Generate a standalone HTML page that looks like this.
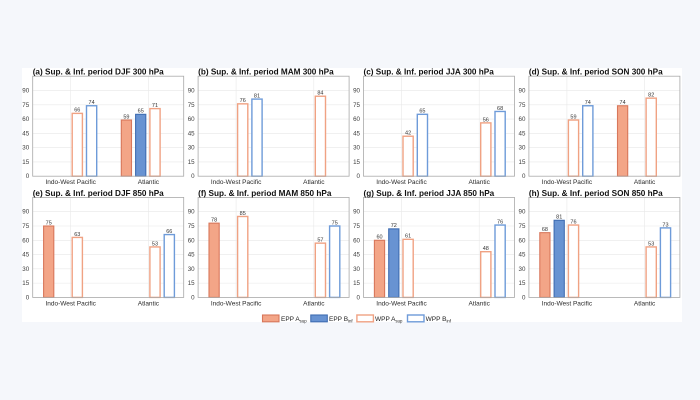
<!DOCTYPE html>
<html><head><meta charset="utf-8">
<style>
html,body{margin:0;padding:0;background:#f5f7fb;}
svg{display:block;font-family:"Liberation Sans",Arial,sans-serif;}
.fr{fill:none;stroke:#a9a9a9;stroke-width:0.8}
.gr{stroke:#e8e8e8;stroke-width:0.6}
.tk{stroke:#a9a9a9;stroke-width:0.6}
.yl{font-size:6.2px;fill:#3c3c3c;text-anchor:end}
.cl{font-size:6.5px;fill:#2a2a2a;text-anchor:middle}
.tt{font-size:8.2px;font-weight:bold;fill:#111}
.vl{font-size:5.5px;fill:#333;text-anchor:middle}
.ea{fill:#f3a587;stroke:#d8775b;stroke-width:1.1}
.eb{fill:#6893d2;stroke:#3f6db2;stroke-width:1.1}
.wa{fill:#fff;stroke:#f0a283;stroke-width:1.4}
.wb{fill:#fff;stroke:#6e9bd9;stroke-width:1.4}
.lg{font-size:6.5px;fill:#222}
</style></head><body>
<svg width="700" height="400" viewBox="0 0 700 400" xmlns="http://www.w3.org/2000/svg">
<rect x="0" y="0" width="700" height="400" fill="#f5f7fb"/>
<rect x="22" y="68" width="660" height="254" fill="#ffffff"/>

<!-- ===== Panel a ===== -->
<g transform="translate(32.7,76.2)">
<line class="gr" x1="0" y1="85.72" x2="151" y2="85.72"/><line class="gr" x1="0" y1="71.44" x2="151" y2="71.44"/><line class="gr" x1="0" y1="57.16" x2="151" y2="57.16"/><line class="gr" x1="0" y1="42.88" x2="151" y2="42.88"/><line class="gr" x1="0" y1="28.6" x2="151" y2="28.6"/><line class="gr" x1="0" y1="14.32" x2="151" y2="14.32"/>
<line class="gr" x1="38" y1="0" x2="38" y2="100"/><line class="gr" x1="115.7" y1="0" x2="115.7" y2="100"/>
<rect class="wa" x="39.5" y="37.17" width="10.2" height="62.83"/>
<rect class="wb" x="53.8" y="29.55" width="10.2" height="70.45"/>
<rect class="ea" x="88.6" y="43.83" width="10.2" height="56.17"/>
<rect class="eb" x="102.9" y="38.12" width="10.2" height="61.88"/>
<rect class="wa" x="117.2" y="32.41" width="10.2" height="67.59"/>
<text class="vl" x="44.6" y="35.5">66</text><text class="vl" x="58.9" y="27.9">74</text><text class="vl" x="93.7" y="42.2">59</text><text class="vl" x="108" y="36.5">65</text><text class="vl" x="122.3" y="30.8">71</text>
<rect class="fr" x="0" y="0" width="151" height="100"/>
<text class="yl" x="-3.5" y="102">0</text><text class="yl" x="-3.5" y="87.7">15</text><text class="yl" x="-3.5" y="73.4">30</text><text class="yl" x="-3.5" y="59.2">45</text><text class="yl" x="-3.5" y="44.9">60</text><text class="yl" x="-3.5" y="30.6">75</text><text class="yl" x="-3.5" y="16.3">90</text>
<text class="cl" x="38" y="108">Indo-West Pacific</text><text class="cl" x="115.7" y="108">Atlantic</text>
<text class="tt" x="0" y="-1.5">(a) Sup. &amp; Inf. period DJF 300 hPa</text>
</g>

<!-- ===== Panel b ===== -->
<g transform="translate(198.1,76.2)">
<line class="gr" x1="0" y1="85.72" x2="151" y2="85.72"/><line class="gr" x1="0" y1="71.44" x2="151" y2="71.44"/><line class="gr" x1="0" y1="57.16" x2="151" y2="57.16"/><line class="gr" x1="0" y1="42.88" x2="151" y2="42.88"/><line class="gr" x1="0" y1="28.6" x2="151" y2="28.6"/><line class="gr" x1="0" y1="14.32" x2="151" y2="14.32"/>
<line class="gr" x1="38" y1="0" x2="38" y2="100"/><line class="gr" x1="115.7" y1="0" x2="115.7" y2="100"/>
<rect class="wa" x="39.5" y="27.65" width="10.2" height="72.35"/>
<rect class="wb" x="53.8" y="22.89" width="10.2" height="77.11"/>
<rect class="wa" x="117.2" y="20.03" width="10.2" height="79.97"/>
<text class="vl" x="44.6" y="26">76</text><text class="vl" x="58.9" y="21.2">81</text><text class="vl" x="122.3" y="18.4">84</text>
<rect class="fr" x="0" y="0" width="151" height="100"/>
<text class="yl" x="-3.5" y="102">0</text><text class="yl" x="-3.5" y="87.7">15</text><text class="yl" x="-3.5" y="73.4">30</text><text class="yl" x="-3.5" y="59.2">45</text><text class="yl" x="-3.5" y="44.9">60</text><text class="yl" x="-3.5" y="30.6">75</text><text class="yl" x="-3.5" y="16.3">90</text>
<text class="cl" x="38" y="108">Indo-West Pacific</text><text class="cl" x="115.7" y="108">Atlantic</text>
<text class="tt" x="0" y="-1.5">(b) Sup. &amp; Inf. period MAM 300 hPa</text>
</g>

<!-- ===== Panel c ===== -->
<g transform="translate(363.5,76.2)">
<line class="gr" x1="0" y1="85.72" x2="151" y2="85.72"/><line class="gr" x1="0" y1="71.44" x2="151" y2="71.44"/><line class="gr" x1="0" y1="57.16" x2="151" y2="57.16"/><line class="gr" x1="0" y1="42.88" x2="151" y2="42.88"/><line class="gr" x1="0" y1="28.6" x2="151" y2="28.6"/><line class="gr" x1="0" y1="14.32" x2="151" y2="14.32"/>
<line class="gr" x1="38" y1="0" x2="38" y2="100"/><line class="gr" x1="115.7" y1="0" x2="115.7" y2="100"/>
<rect class="wa" x="39.5" y="60.02" width="10.2" height="39.98"/>
<rect class="wb" x="53.8" y="38.12" width="10.2" height="61.88"/>
<rect class="wa" x="117.2" y="46.69" width="10.2" height="53.31"/>
<rect class="wb" x="131.5" y="35.26" width="10.2" height="64.74"/>
<text class="vl" x="44.6" y="58.4">42</text><text class="vl" x="58.9" y="36.5">65</text><text class="vl" x="122.3" y="45.1">56</text><text class="vl" x="136.6" y="33.6">68</text>
<rect class="fr" x="0" y="0" width="151" height="100"/>
<text class="yl" x="-3.5" y="102">0</text><text class="yl" x="-3.5" y="87.7">15</text><text class="yl" x="-3.5" y="73.4">30</text><text class="yl" x="-3.5" y="59.2">45</text><text class="yl" x="-3.5" y="44.9">60</text><text class="yl" x="-3.5" y="30.6">75</text><text class="yl" x="-3.5" y="16.3">90</text>
<text class="cl" x="38" y="108">Indo-West Pacific</text><text class="cl" x="115.7" y="108">Atlantic</text>
<text class="tt" x="0" y="-1.5">(c) Sup. &amp; Inf. period JJA 300 hPa</text>
</g>

<!-- ===== Panel d ===== -->
<g transform="translate(528.9,76.2)">
<line class="gr" x1="0" y1="85.72" x2="151" y2="85.72"/><line class="gr" x1="0" y1="71.44" x2="151" y2="71.44"/><line class="gr" x1="0" y1="57.16" x2="151" y2="57.16"/><line class="gr" x1="0" y1="42.88" x2="151" y2="42.88"/><line class="gr" x1="0" y1="28.6" x2="151" y2="28.6"/><line class="gr" x1="0" y1="14.32" x2="151" y2="14.32"/>
<line class="gr" x1="38" y1="0" x2="38" y2="100"/><line class="gr" x1="115.7" y1="0" x2="115.7" y2="100"/>
<rect class="wa" x="39.5" y="43.83" width="10.2" height="56.17"/>
<rect class="wb" x="53.8" y="29.55" width="10.2" height="70.45"/>
<rect class="ea" x="88.6" y="29.55" width="10.2" height="70.45"/>
<rect class="wa" x="117.2" y="21.94" width="10.2" height="78.06"/>
<text class="vl" x="44.6" y="42.2">59</text><text class="vl" x="58.9" y="27.9">74</text><text class="vl" x="93.7" y="27.9">74</text><text class="vl" x="122.3" y="20.3">82</text>
<rect class="fr" x="0" y="0" width="151" height="100"/>
<text class="yl" x="-3.5" y="102">0</text><text class="yl" x="-3.5" y="87.7">15</text><text class="yl" x="-3.5" y="73.4">30</text><text class="yl" x="-3.5" y="59.2">45</text><text class="yl" x="-3.5" y="44.9">60</text><text class="yl" x="-3.5" y="30.6">75</text><text class="yl" x="-3.5" y="16.3">90</text>
<text class="cl" x="38" y="108">Indo-West Pacific</text><text class="cl" x="115.7" y="108">Atlantic</text>
<text class="tt" x="0" y="-1.5">(d) Sup. &amp; Inf. period SON 300 hPa</text>
</g>

<!-- ===== Panel e ===== -->
<g transform="translate(32.7,197.4)">
<line class="gr" x1="0" y1="85.72" x2="151" y2="85.72"/><line class="gr" x1="0" y1="71.44" x2="151" y2="71.44"/><line class="gr" x1="0" y1="57.16" x2="151" y2="57.16"/><line class="gr" x1="0" y1="42.88" x2="151" y2="42.88"/><line class="gr" x1="0" y1="28.6" x2="151" y2="28.6"/><line class="gr" x1="0" y1="14.32" x2="151" y2="14.32"/>
<line class="gr" x1="38" y1="0" x2="38" y2="100"/><line class="gr" x1="115.7" y1="0" x2="115.7" y2="100"/>
<rect class="ea" x="10.9" y="28.6" width="10.2" height="71.4"/>
<rect class="wa" x="39.5" y="40.02" width="10.2" height="59.98"/>
<rect class="wa" x="117.2" y="49.54" width="10.2" height="50.46"/>
<rect class="wb" x="131.5" y="37.17" width="10.2" height="62.83"/>
<text class="vl" x="16" y="27">75</text><text class="vl" x="44.6" y="38.4">63</text><text class="vl" x="122.3" y="47.9">53</text><text class="vl" x="136.6" y="35.5">66</text>
<rect class="fr" x="0" y="0" width="151" height="100"/>
<text class="yl" x="-3.5" y="102">0</text><text class="yl" x="-3.5" y="87.7">15</text><text class="yl" x="-3.5" y="73.4">30</text><text class="yl" x="-3.5" y="59.2">45</text><text class="yl" x="-3.5" y="44.9">60</text><text class="yl" x="-3.5" y="30.6">75</text><text class="yl" x="-3.5" y="16.3">90</text>
<text class="cl" x="38" y="108">Indo-West Pacific</text><text class="cl" x="115.7" y="108">Atlantic</text>
<text class="tt" x="0" y="-1.5">(e) Sup. &amp; Inf. period DJF 850 hPa</text>
</g>

<!-- ===== Panel f ===== -->
<g transform="translate(198.1,197.4)">
<line class="gr" x1="0" y1="85.72" x2="151" y2="85.72"/><line class="gr" x1="0" y1="71.44" x2="151" y2="71.44"/><line class="gr" x1="0" y1="57.16" x2="151" y2="57.16"/><line class="gr" x1="0" y1="42.88" x2="151" y2="42.88"/><line class="gr" x1="0" y1="28.6" x2="151" y2="28.6"/><line class="gr" x1="0" y1="14.32" x2="151" y2="14.32"/>
<line class="gr" x1="38" y1="0" x2="38" y2="100"/><line class="gr" x1="115.7" y1="0" x2="115.7" y2="100"/>
<rect class="ea" x="10.9" y="25.74" width="10.2" height="74.26"/>
<rect class="wa" x="39.5" y="19.08" width="10.2" height="80.92"/>
<rect class="wa" x="117.2" y="45.74" width="10.2" height="54.26"/>
<rect class="wb" x="131.5" y="28.6" width="10.2" height="71.4"/>
<text class="vl" x="16" y="24.1">78</text><text class="vl" x="44.6" y="17.4">85</text><text class="vl" x="122.3" y="44.1">57</text><text class="vl" x="136.6" y="27">75</text>
<rect class="fr" x="0" y="0" width="151" height="100"/>
<text class="yl" x="-3.5" y="102">0</text><text class="yl" x="-3.5" y="87.7">15</text><text class="yl" x="-3.5" y="73.4">30</text><text class="yl" x="-3.5" y="59.2">45</text><text class="yl" x="-3.5" y="44.9">60</text><text class="yl" x="-3.5" y="30.6">75</text><text class="yl" x="-3.5" y="16.3">90</text>
<text class="cl" x="38" y="108">Indo-West Pacific</text><text class="cl" x="115.7" y="108">Atlantic</text>
<text class="tt" x="0" y="-1.5">(f) Sup. &amp; Inf. period MAM 850 hPa</text>
</g>

<!-- ===== Panel g ===== -->
<g transform="translate(363.5,197.4)">
<line class="gr" x1="0" y1="85.72" x2="151" y2="85.72"/><line class="gr" x1="0" y1="71.44" x2="151" y2="71.44"/><line class="gr" x1="0" y1="57.16" x2="151" y2="57.16"/><line class="gr" x1="0" y1="42.88" x2="151" y2="42.88"/><line class="gr" x1="0" y1="28.6" x2="151" y2="28.6"/><line class="gr" x1="0" y1="14.32" x2="151" y2="14.32"/>
<line class="gr" x1="38" y1="0" x2="38" y2="100"/><line class="gr" x1="115.7" y1="0" x2="115.7" y2="100"/>
<rect class="ea" x="10.9" y="42.88" width="10.2" height="57.12"/>
<rect class="eb" x="25.2" y="31.46" width="10.2" height="68.54"/>
<rect class="wa" x="39.5" y="41.93" width="10.2" height="58.07"/>
<rect class="wa" x="117.2" y="54.3" width="10.2" height="45.7"/>
<rect class="wb" x="131.5" y="27.65" width="10.2" height="72.35"/>
<text class="vl" x="16" y="41.2">60</text><text class="vl" x="30.3" y="29.8">72</text><text class="vl" x="44.6" y="40.3">61</text><text class="vl" x="122.3" y="52.7">48</text><text class="vl" x="136.6" y="26">76</text>
<rect class="fr" x="0" y="0" width="151" height="100"/>
<text class="yl" x="-3.5" y="102">0</text><text class="yl" x="-3.5" y="87.7">15</text><text class="yl" x="-3.5" y="73.4">30</text><text class="yl" x="-3.5" y="59.2">45</text><text class="yl" x="-3.5" y="44.9">60</text><text class="yl" x="-3.5" y="30.6">75</text><text class="yl" x="-3.5" y="16.3">90</text>
<text class="cl" x="38" y="108">Indo-West Pacific</text><text class="cl" x="115.7" y="108">Atlantic</text>
<text class="tt" x="0" y="-1.5">(g) Sup. &amp; Inf. period JJA 850 hPa</text>
</g>

<!-- ===== Panel h ===== -->
<g transform="translate(528.9,197.4)">
<line class="gr" x1="0" y1="85.72" x2="151" y2="85.72"/><line class="gr" x1="0" y1="71.44" x2="151" y2="71.44"/><line class="gr" x1="0" y1="57.16" x2="151" y2="57.16"/><line class="gr" x1="0" y1="42.88" x2="151" y2="42.88"/><line class="gr" x1="0" y1="28.6" x2="151" y2="28.6"/><line class="gr" x1="0" y1="14.32" x2="151" y2="14.32"/>
<line class="gr" x1="38" y1="0" x2="38" y2="100"/><line class="gr" x1="115.7" y1="0" x2="115.7" y2="100"/>
<rect class="ea" x="10.9" y="35.26" width="10.2" height="64.74"/>
<rect class="eb" x="25.2" y="22.89" width="10.2" height="77.11"/>
<rect class="wa" x="39.5" y="27.65" width="10.2" height="72.35"/>
<rect class="wa" x="117.2" y="49.54" width="10.2" height="50.46"/>
<rect class="wb" x="131.5" y="30.5" width="10.2" height="69.5"/>
<text class="vl" x="16" y="33.6">68</text><text class="vl" x="30.3" y="21.2">81</text><text class="vl" x="44.6" y="26">76</text><text class="vl" x="122.3" y="47.9">53</text><text class="vl" x="136.6" y="28.9">73</text>
<rect class="fr" x="0" y="0" width="151" height="100"/>
<text class="yl" x="-3.5" y="102">0</text><text class="yl" x="-3.5" y="87.7">15</text><text class="yl" x="-3.5" y="73.4">30</text><text class="yl" x="-3.5" y="59.2">45</text><text class="yl" x="-3.5" y="44.9">60</text><text class="yl" x="-3.5" y="30.6">75</text><text class="yl" x="-3.5" y="16.3">90</text>
<text class="cl" x="38" y="108">Indo-West Pacific</text><text class="cl" x="115.7" y="108">Atlantic</text>
<text class="tt" x="0" y="-1.5">(h) Sup. &amp; Inf. period SON 850 hPa</text>
</g>

<!-- ===== Legend ===== -->
<rect class="ea" x="262.5" y="315" width="16.5" height="6.8"/>
<text class="lg" x="281" y="320.8">EPP A<tspan font-size="4.3" dy="1.6">sup</tspan></text>
<rect class="eb" x="310.8" y="315" width="16.5" height="6.8"/>
<text class="lg" x="329" y="320.8">EPP B<tspan font-size="4.3" dy="1.6">inf</tspan></text>
<rect class="wa" x="356.9" y="315" width="16.5" height="6.8"/>
<text class="lg" x="375" y="320.8">WPP A<tspan font-size="4.3" dy="1.6">sup</tspan></text>
<rect class="wb" x="407.5" y="315" width="16.5" height="6.8"/>
<text class="lg" x="425.6" y="320.8">WPP B<tspan font-size="4.3" dy="1.6">inf</tspan></text>
</svg>
</body></html>
